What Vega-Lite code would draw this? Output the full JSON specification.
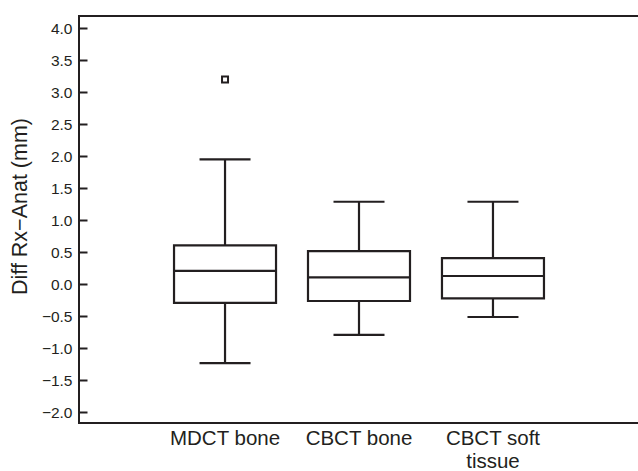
{
  "$schema": "https://vega.github.io/schema/vega-lite/v6.json",
  "autosize": "none",
  "width": 560,
  "height": 407,
  "padding": {"left": 79, "top": 16, "right": 0, "bottom": 48},
  "background": "white",
  "data": {
    "values": [
      {"group": "MDCT bone", "lower": -1.23, "q1": -0.29, "median": 0.21, "q3": 0.61, "upper": 1.95, "outlier": 3.2},
      {"group": "CBCT bone", "lower": -0.79, "q1": -0.26, "median": 0.11, "q3": 0.52, "upper": 1.29, "outlier": null},
      {"group": "CBCT soft tissue", "lower": -0.51, "q1": -0.22, "median": 0.13, "q3": 0.41, "upper": 1.29, "outlier": null}
    ]
  },
  "encoding": {
    "x": {
      "field": "group",
      "type": "nominal",
      "sort": null,
      "scale": {"paddingInner": 0, "paddingOuter": 0.59},
      "axis": {
        "title": null,
        "ticks": false,
        "domain": false,
        "labelAngle": 0,
        "labelFontSize": 20.5,
        "labelColor": "#231f20",
        "labelPadding": 5,
        "labelLineHeight": 23,
        "labelExpr": "datum.label == 'CBCT soft tissue' ? ['CBCT soft', 'tissue'] : datum.label"
      }
    }
  },
  "layer": [
    {
      "mark": {"type": "rule", "color": "#231f20", "strokeWidth": 2.2},
      "encoding": {
        "y": {
          "field": "lower",
          "type": "quantitative",
          "scale": {"domain": [-2.165, 4.19], "nice": false, "zero": false},
          "axis": {"title": "Diff Rx\u2212Anat (mm)", "values": [-2, -1.5, -1, -0.5, 0, 0.5, 1, 1.5, 2, 2.5, 3, 3.5, 4], "format": ".1f", "labelExpr": "replace(datum.label, '-', '\u2212')", "labelOverlap": false, "titleFontSize": 21.5, "titleFontWeight": "normal", "titleColor": "#231f20", "titlePadding": 10, "titleY": 190, "grid": false, "domain": false, "offset": -8, "tickSize": 8, "tickWidth": 2, "tickColor": "#231f20", "labelPadding": 7, "labelFontSize": 15.5, "labelColor": "#231f20"}
        },
        "y2": {"field": "upper"}
      }
    },
    {
      "mark": {"type": "tick", "color": "#231f20", "size": 51, "thickness": 2.2, "opacity": 1},
      "encoding": {"y": {"field": "lower", "type": "quantitative", "axis": {"title": "Diff Rx\u2212Anat (mm)", "values": [-2, -1.5, -1, -0.5, 0, 0.5, 1, 1.5, 2, 2.5, 3, 3.5, 4], "format": ".1f", "labelExpr": "replace(datum.label, '-', '\u2212')", "labelOverlap": false, "titleFontSize": 21.5, "titleFontWeight": "normal", "titleColor": "#231f20", "titlePadding": 10, "titleY": 190, "grid": false, "domain": false, "offset": -8, "tickSize": 8, "tickWidth": 2, "tickColor": "#231f20", "labelPadding": 7, "labelFontSize": 15.5, "labelColor": "#231f20"}}}
    },
    {
      "mark": {"type": "tick", "color": "#231f20", "size": 51, "thickness": 2.2, "opacity": 1},
      "encoding": {"y": {"field": "upper", "type": "quantitative", "axis": {"title": "Diff Rx\u2212Anat (mm)", "values": [-2, -1.5, -1, -0.5, 0, 0.5, 1, 1.5, 2, 2.5, 3, 3.5, 4], "format": ".1f", "labelExpr": "replace(datum.label, '-', '\u2212')", "labelOverlap": false, "titleFontSize": 21.5, "titleFontWeight": "normal", "titleColor": "#231f20", "titlePadding": 10, "titleY": 190, "grid": false, "domain": false, "offset": -8, "tickSize": 8, "tickWidth": 2, "tickColor": "#231f20", "labelPadding": 7, "labelFontSize": 15.5, "labelColor": "#231f20"}}}
    },
    {
      "mark": {"type": "bar", "fill": "white", "stroke": "#231f20", "strokeWidth": 2.2, "width": 102},
      "encoding": {
        "y": {"field": "q1", "type": "quantitative", "axis": {"title": "Diff Rx\u2212Anat (mm)", "values": [-2, -1.5, -1, -0.5, 0, 0.5, 1, 1.5, 2, 2.5, 3, 3.5, 4], "format": ".1f", "labelExpr": "replace(datum.label, '-', '\u2212')", "labelOverlap": false, "titleFontSize": 21.5, "titleFontWeight": "normal", "titleColor": "#231f20", "titlePadding": 10, "titleY": 190, "grid": false, "domain": false, "offset": -8, "tickSize": 8, "tickWidth": 2, "tickColor": "#231f20", "labelPadding": 7, "labelFontSize": 15.5, "labelColor": "#231f20"}},
        "y2": {"field": "q3"}
      }
    },
    {
      "mark": {"type": "tick", "color": "#231f20", "size": 102, "thickness": 2.2, "opacity": 1},
      "encoding": {"y": {"field": "median", "type": "quantitative", "axis": {"title": "Diff Rx\u2212Anat (mm)", "values": [-2, -1.5, -1, -0.5, 0, 0.5, 1, 1.5, 2, 2.5, 3, 3.5, 4], "format": ".1f", "labelExpr": "replace(datum.label, '-', '\u2212')", "labelOverlap": false, "titleFontSize": 21.5, "titleFontWeight": "normal", "titleColor": "#231f20", "titlePadding": 10, "titleY": 190, "grid": false, "domain": false, "offset": -8, "tickSize": 8, "tickWidth": 2, "tickColor": "#231f20", "labelPadding": 7, "labelFontSize": 15.5, "labelColor": "#231f20"}}}
    },
    {
      "mark": {"type": "point", "shape": "square", "filled": false, "size": 36, "color": "#231f20", "strokeWidth": 2, "opacity": 1},
      "encoding": {"y": {"field": "outlier", "type": "quantitative", "axis": {"title": "Diff Rx\u2212Anat (mm)", "values": [-2, -1.5, -1, -0.5, 0, 0.5, 1, 1.5, 2, 2.5, 3, 3.5, 4], "format": ".1f", "labelExpr": "replace(datum.label, '-', '\u2212')", "labelOverlap": false, "titleFontSize": 21.5, "titleFontWeight": "normal", "titleColor": "#231f20", "titlePadding": 10, "titleY": 190, "grid": false, "domain": false, "offset": -8, "tickSize": 8, "tickWidth": 2, "tickColor": "#231f20", "labelPadding": 7, "labelFontSize": 15.5, "labelColor": "#231f20"}}}
    }
  ],
  "config": {
    "font": "Liberation Sans",
    "view": {"stroke": "#231f20", "strokeWidth": 2}
  }
}
